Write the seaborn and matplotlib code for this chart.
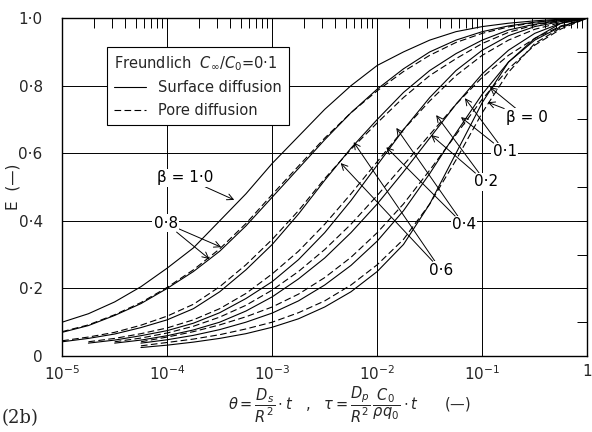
import numpy as np
import pandas as pd
import matplotlib
matplotlib.use('Agg')
import matplotlib.pyplot as plt
import seaborn as sns
from matplotlib.lines import Line2D
from matplotlib.ticker import FixedLocator, NullFormatter

# log10(theta) grid, quarter decades from 1e-5 to 1
log_theta = [-5.0, -4.75, -4.5, -4.25, -4.0, -3.75, -3.5, -3.25, -3.0, -2.75, -2.5,
             -2.25, -2.0, -1.75, -1.5, -1.25, -1.0, -0.75, -0.5, -0.25, 0.0]

# E(-), surface (solid) and pore (dashed) diffusion
e_b10_surf = [0.10, 0.125, 0.16, 0.205, 0.26, 0.32, 0.40, 0.48, 0.57, 0.65, 0.73,
              0.80, 0.86, 0.90, 0.935, 0.96, 0.975, 0.985, 0.992, 0.997, 1.0]
e_b08_surf = [0.07, 0.09, 0.12, 0.155, 0.20, 0.25, 0.31, 0.385, 0.47, 0.555, 0.64,
              0.72, 0.79, 0.85, 0.90, 0.935, 0.96, 0.977, 0.988, 0.995, 1.0]
e_b08_pore = [0.072, 0.092, 0.122, 0.158, 0.203, 0.255, 0.317, 0.392, 0.478, 0.562, 0.645,
              0.72, 0.785, 0.842, 0.89, 0.928, 0.955, 0.974, 0.987, 0.995, 1.0]
e_b06_surf = [0.042, 0.052, 0.065, 0.084, 0.107, 0.14, 0.19, 0.255, 0.33, 0.42, 0.52,
              0.615, 0.70, 0.78, 0.845, 0.895, 0.935, 0.965, 0.982, 0.993, 1.0]
e_b06_pore = [0.045, 0.056, 0.07, 0.091, 0.118, 0.153, 0.205, 0.27, 0.345, 0.43, 0.525,
              0.612, 0.69, 0.765, 0.83, 0.88, 0.925, 0.958, 0.98, 0.992, 1.0]
e_b04_surf = [None, 0.038, 0.047, 0.06, 0.075, 0.097, 0.128, 0.17, 0.22, 0.285, 0.365,
              0.46, 0.565, 0.67, 0.765, 0.845, 0.905, 0.948, 0.975, 0.99, 1.0]
e_b04_pore = [None, 0.042, 0.052, 0.066, 0.083, 0.107, 0.14, 0.185, 0.243, 0.31, 0.39,
              0.48, 0.575, 0.67, 0.755, 0.83, 0.89, 0.935, 0.967, 0.987, 1.0]
e_b02_surf = [None, None, 0.038, 0.047, 0.06, 0.077, 0.10, 0.133, 0.175, 0.228, 0.29,
              0.365, 0.45, 0.545, 0.645, 0.745, 0.835, 0.905, 0.955, 0.985, 1.0]
e_b02_pore = [None, None, 0.042, 0.053, 0.068, 0.088, 0.115, 0.15, 0.195, 0.25, 0.315,
              0.39, 0.475, 0.565, 0.655, 0.745, 0.825, 0.89, 0.94, 0.977, 1.0]
e_b01_surf = [None, None, None, 0.038, 0.048, 0.061, 0.078, 0.10, 0.127, 0.163, 0.21,
              0.268, 0.34, 0.43, 0.54, 0.66, 0.775, 0.87, 0.935, 0.975, 1.0]
e_b01_pore = [None, None, None, 0.042, 0.056, 0.072, 0.092, 0.116, 0.145, 0.183, 0.232,
              0.292, 0.365, 0.45, 0.55, 0.655, 0.76, 0.85, 0.92, 0.968, 1.0]
e_b00_surf = [None, None, None, 0.025, 0.032, 0.041, 0.052, 0.066, 0.085, 0.11, 0.145,
              0.19, 0.25, 0.33, 0.45, 0.60, 0.75, 0.87, 0.94, 0.985, 1.0]
e_b00_pore = [None, None, None, 0.03, 0.04, 0.05, 0.063, 0.08, 0.10, 0.128, 0.163,
              0.21, 0.27, 0.345, 0.45, 0.58, 0.72, 0.84, 0.925, 0.972, 1.0]

curves = {('1.0', 'Surface diffusion'): e_b10_surf,
          ('0.8', 'Surface diffusion'): e_b08_surf,
          ('0.8', 'Pore diffusion'): e_b08_pore,
          ('0.6', 'Surface diffusion'): e_b06_surf,
          ('0.6', 'Pore diffusion'): e_b06_pore,
          ('0.4', 'Surface diffusion'): e_b04_surf,
          ('0.4', 'Pore diffusion'): e_b04_pore,
          ('0.2', 'Surface diffusion'): e_b02_surf,
          ('0.2', 'Pore diffusion'): e_b02_pore,
          ('0.1', 'Surface diffusion'): e_b01_surf,
          ('0.1', 'Pore diffusion'): e_b01_pore,
          ('0', 'Surface diffusion'): e_b00_surf,
          ('0', 'Pore diffusion'): e_b00_pore}

rows = []
for (beta, model), vals in curves.items():
    for lt, e in zip(log_theta, vals):
        if e is not None:
            rows.append({'theta': 10 ** lt, 'E': e, 'curve': f'{beta} {model}',
                         'model': model})
df = pd.DataFrame(rows)

# labels: text, text position, arrow tips (theta, E)
beta_labels = ['β = 1·0', '0·8', '0·6', '0·4', '0·2', '0·1', 'β = 0']
label_pos = [(1.49e-4, 0.527), (9.7e-5, 0.393), (0.0405, 0.254), (0.067, 0.388),
             (0.108, 0.515), (0.164, 0.604), (0.264, 0.707)]
label_tips = [[(4.35e-4, 0.462)],
              [(3.27e-4, 0.322), (2.52e-4, 0.287)],
              [(5.96e-3, 0.633), (4.49e-3, 0.571)],
              [(0.0152, 0.675), (0.0122, 0.618)],
              [(0.0364, 0.713), (0.0326, 0.654)],
              [(0.0684, 0.763), (0.0627, 0.707)],
              [(0.118, 0.796), (0.113, 0.751)]]

sns.set_style('white')
plt.rcParams['font.family'] = ['DejaVu Sans']
plt.rcParams['mathtext.fontset'] = 'dejavusans'

fig = plt.figure(figsize=(5.92, 4.32), dpi=100)
ax = fig.add_axes([0.105, 0.176, 0.887, 0.782])

sns.lineplot(data=df, x='theta', y='E', units='curve', estimator=None,
             style='model', dashes={'Surface diffusion': '', 'Pore diffusion': (6, 3)},
             color='k', lw=0.8, legend=False, sort=False, ax=ax)

ax.set_xscale('log')
ax.set_xlim(1e-5, 1)
ax.set_ylim(0, 1)

ax.xaxis.set_major_locator(FixedLocator([1e-5, 1e-4, 1e-3, 1e-2, 1e-1, 1]))
ax.set_xticklabels(['$10^{-5}$', '$10^{-4}$', '$10^{-3}$', '$10^{-2}$',
                    '$10^{-1}$', '1'], fontsize=11)
minors = [m * 10.0 ** d for d in range(-5, 0) for m in range(2, 10)]
ax.xaxis.set_minor_locator(FixedLocator(minors))
ax.xaxis.set_minor_formatter(NullFormatter())
ax.yaxis.set_major_locator(FixedLocator([0, 0.2, 0.4, 0.6, 0.8, 1.0]))
ax.set_yticklabels(['0', '0·2', '0·4', '0·6', '0·8', '1·0'], fontsize=11)
ax.yaxis.set_minor_locator(FixedLocator([0.1, 0.3, 0.5, 0.7, 0.9]))
ax.tick_params(which='both', direction='in', top=True, right=True,
               color='k', width=0.7)
ax.tick_params(which='major', length=7)
ax.tick_params(which='minor', length=7)
ax.tick_params(axis='y', which='major', pad=14)
ax.tick_params(axis='x', which='major', pad=6)
ax.grid(which='major', color='k', lw=0.7)
for s in ax.spines.values():
    s.set_color('k')
    s.set_linewidth(1.0)

ax.set_xlabel('')
ax.set_ylabel('E  (—)', fontsize=11)
ax.yaxis.set_label_coords(-0.08, 0.5)

handles = [Line2D([], [], color='k', lw=0.8),
           Line2D([], [], color='k', lw=0.8, dashes=(6, 3))]
leg = ax.legend(handles, ['Surface diffusion', 'Pore diffusion'],
                title='Freundlich  $C_{\\infty}/C_0$=0·1', alignment='left',
                loc='upper left', bbox_to_anchor=(0.085, 0.914), borderaxespad=0,
                fontsize=10.5, title_fontsize=10.5, frameon=True, fancybox=False,
                edgecolor='k', framealpha=1, handlelength=2.2, borderpad=0.5,
                labelspacing=0.5)
leg.get_frame().set_linewidth(0.8)

for text, pos, tips in zip(beta_labels, label_pos, label_tips):
    for i, tip in enumerate(tips):
        ax.annotate(text, xy=tip, xytext=pos, fontsize=11, ha='center', va='center',
                    color='k' if i == 0 else 'none',
                    bbox=dict(fc='white' if i == 0 else 'none', ec='none', pad=1),
                    arrowprops=dict(arrowstyle='->', color='k', lw=0.7,
                                    shrinkA=0, shrinkB=0))

fig.text(0.59, 0.062,
         r'$\theta=\dfrac{D_s}{R^2}\cdot t$   ,   '
         r'$\tau=\dfrac{D_p}{R^2}\,\dfrac{C_0}{\rho q_0}\cdot t$      (—)',
         fontsize=10.5, ha='center', va='center')
fig.text(0.003, 0.032, '(2b)', fontsize=13, family='DejaVu Serif',
         ha='left', va='center')

fig.savefig('out.png', dpi=100)
